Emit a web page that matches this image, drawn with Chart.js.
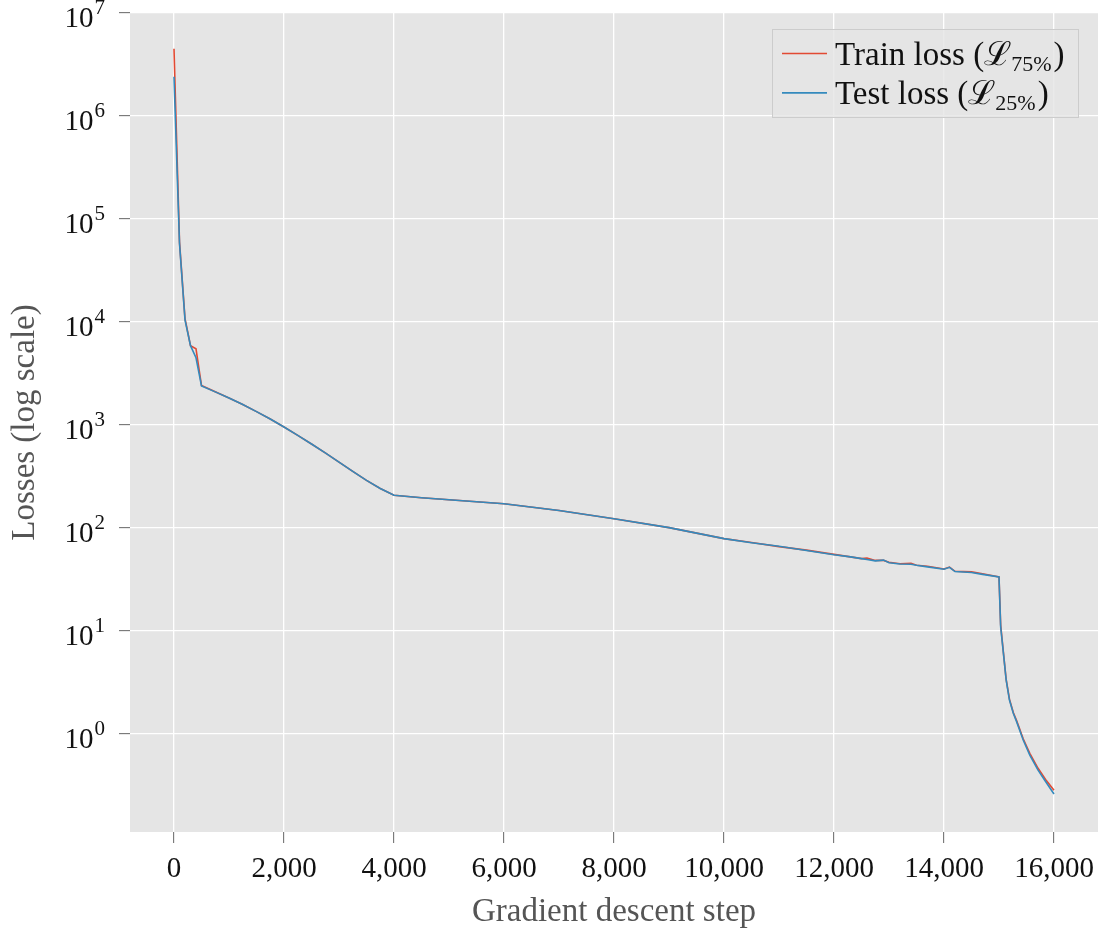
<!DOCTYPE html>
<html>
<head>
<meta charset="utf-8">
<title>Losses</title>
<script src="https://cdn.jsdelivr.net/npm/chart.js@4/dist/chart.umd.min.js"></script>
<style>
  html, body { margin: 0; padding: 0; background: #ffffff; }
  canvas { display: block; }
</style>
</head>
<body>
<canvas id="losses" width="1105" height="934"></canvas>
<script>
// gradient descent steps (x) and the two loss curves sampled on them
const steps = [
    0, 100, 200, 300, 400, 500, 750, 1000, 1250, 1500, 1750, 2000, 2250, 2500,
    2750, 3000, 3250, 3500, 3750, 4000,
    4500, 5000, 5500, 6000, 7000, 8000, 9000, 10000, 10500, 11000, 11500, 12000,
    12300, 12500, 12600, 12750, 12900, 13000, 13200, 13400, 13500, 13700, 14000,
    14100, 14200, 14500, 14700, 15000, 15030, 15080, 15130, 15190, 15260, 15320,
    15440, 15560, 15710, 15850, 16000
];
const trainLoss = [
    4.5e6, 6.0e4, 1.08e4, 5900, 5500, 2420, 2100, 1828, 1581, 1349, 1143, 957, 794, 655,
    536, 437, 355, 290, 242, 208,
    197, 188, 180, 172, 148, 123, 101, 79, 72.5, 66, 61, 55.5,
    52.5, 50.5, 51, 48.5, 48.5, 46.5, 45, 45.5, 43.5, 42.5, 40,
    41.8, 38, 37.5, 36, 33.5, 11.5, 6.2, 3.4, 2.18, 1.62, 1.35,
    0.9, 0.65, 0.465, 0.36, 0.285
];
const testLoss = [
    2.4e6, 5.8e4, 1.05e4, 5900, 4500, 2399, 2099, 1828, 1581, 1349, 1143, 957, 794, 655,
    536, 437, 355, 290, 242, 208,
    197, 188, 180, 172, 148, 123, 101, 79, 72, 66.5, 60.5, 55,
    52.5, 50.5, 49.5, 48, 48.8, 46, 44.8, 44.5, 43.5, 42, 39.8,
    41.6, 37.8, 37, 35.5, 33.5, 11, 6.1, 3.35, 2.14, 1.59, 1.32,
    0.875, 0.625, 0.447, 0.344, 0.262
];
const xTicks = [0, 2000, 4000, 6000, 8000, 10000, 12000, 14000, 16000];
const yPowers = [0, 1, 2, 3, 4, 5, 6, 7];
const seriesNames = ['Train loss (', 'Test loss ('];
const seriesSubs = ['75%', '25%'];

const RED = '#E24A33';
const BLUE = '#348ABD';
const SERIF = '"Liberation Serif", "DejaVu Serif", serif';

const toPoints = ys => steps.map((s, i) => ({x: s, y: ys[i]}));

// grey panel behind the grid
const panel = {
    id: 'panel',
    beforeDraw(chart) {
        const {ctx, chartArea: a} = chart;
        ctx.save();
        ctx.fillStyle = '#E5E5E5';
        ctx.fillRect(a.left, a.top, a.right - a.left, a.bottom - a.top);
        ctx.restore();
    }
};

// 10^n labels on the log axis
const powerLabels = {
    id: 'powerLabels',
    afterDraw(chart) {
        const {ctx, chartArea} = chart;
        const yScale = chart.scales.y;
        const right = chartArea.left - 25;
        ctx.save();
        ctx.fillStyle = '#111111';
        ctx.textAlign = 'right';
        ctx.textBaseline = 'alphabetic';
        yPowers.forEach(p => {
            const py = yScale.getPixelForValue(Math.pow(10, p));
            ctx.font = '21px ' + SERIF;
            const ew = ctx.measureText(String(p)).width;
            ctx.fillText(String(p), right, py + 1);
            ctx.font = '29px ' + SERIF;
            ctx.fillText('10', right - ew - 1, py + 14);
        });
        ctx.restore();
    }
};

// legend box with subscripted loss names
const lossLegend = {
    id: 'lossLegend',
    afterDraw(chart) {
        const {ctx, chartArea: a} = chart;
        const w = 307, h = 89;
        const left = a.right - 19 - w, top = a.top + 16;
        ctx.save();
        ctx.fillStyle = 'rgba(229,229,229,0.8)';
        ctx.fillRect(left, top, w, h);
        ctx.strokeStyle = '#CCCCCC';
        ctx.lineWidth = 1;
        ctx.strokeRect(left + 0.5, top + 0.5, w - 1, h - 1);
        ctx.textBaseline = 'alphabetic';
        ctx.textAlign = 'left';
        chart.data.datasets.forEach((ds, i) => {
            const y = top + 24.5 + i * 39.4;
            ctx.strokeStyle = ds.borderColor;
            ctx.lineWidth = 1.6;
            ctx.beginPath();
            ctx.moveTo(left + 10, y);
            ctx.lineTo(left + 55, y);
            ctx.stroke();

            let x = left + 63;
            const base = y + 11;
            ctx.fillStyle = '#111111';
            ctx.font = '33px ' + SERIF;
            ctx.fillText(seriesNames[i], x, base);
            x += ctx.measureText(seriesNames[i]).width;
            ctx.fillText('\u2112', x, base);
            x += ctx.measureText('\u2112').width;
            ctx.font = '22px ' + SERIF;
            ctx.fillText(seriesSubs[i], x, base + 6);
            x += ctx.measureText(seriesSubs[i]).width + 2;
            ctx.font = '33px ' + SERIF;
            ctx.fillText(')', x, base);
        });
        ctx.restore();
    }
};

new Chart(document.getElementById('losses'), {
    type: 'line',
    data: {
        datasets: [
            // test curve is drawn over the train curve
            {label: 'Train loss', data: toPoints(trainLoss), borderColor: RED, borderWidth: 1.6, order: 1},
            {label: 'Test loss', data: toPoints(testLoss), borderColor: BLUE, borderWidth: 1.6, order: 0}
        ]
    },
    options: {
        responsive: false,
        devicePixelRatio: 1,
        animation: false,
        layout: {padding: {top: 13, right: 7, left: 0, bottom: 0}},
        elements: {point: {radius: 0}, line: {tension: 0}},
        plugins: {legend: {display: false}, tooltip: {enabled: false}},
        scales: {
            x: {
                type: 'linear',
                min: -800,
                max: 16800,
                afterFit: s => { s.height = 102; },
                afterBuildTicks: s => { s.ticks = xTicks.map(v => ({value: v})); },
                border: {display: false},
                grid: {color: '#FFFFFF', lineWidth: 1.3, tickColor: '#666666', tickLength: 11, tickWidth: 1},
                ticks: {
                    color: '#111111',
                    padding: 9,
                    maxRotation: 0,
                    font: {family: SERIF, size: 29},
                    callback: v => v.toLocaleString('en-US')
                },
                title: {
                    display: true,
                    text: 'Gradient descent step',
                    color: '#555555',
                    font: {family: SERIF, size: 33},
                    padding: {top: 0, bottom: 2}
                }
            },
            y: {
                type: 'logarithmic',
                min: 0.112,
                max: 1e7,
                afterFit: s => { s.width = 130; },
                afterBuildTicks: s => { s.ticks = yPowers.map(p => ({value: Math.pow(10, p), major: true})); },
                border: {display: false},
                grid: {color: '#FFFFFF', lineWidth: 1.3, tickColor: '#666666', tickLength: 11, tickWidth: 1},
                ticks: {display: false},
                title: {
                    display: true,
                    text: 'Losses (log scale)',
                    color: '#555555',
                    font: {family: SERIF, size: 33},
                    padding: {top: 6, bottom: 0}
                }
            }
        }
    },
    plugins: [panel, powerLabels, lossLegend]
});
</script>
</body>
</html>
